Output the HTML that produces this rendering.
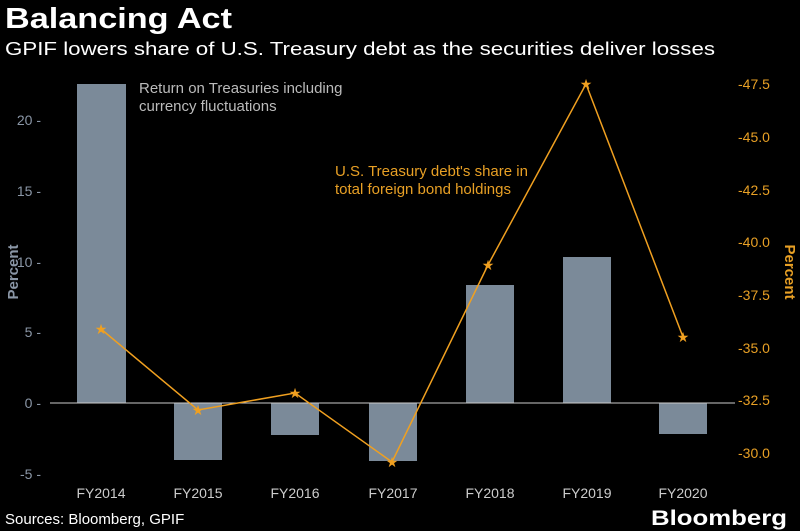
<!DOCTYPE html>
<html><head><style>
html,body{margin:0;padding:0;background:#000;}
svg{display:block;font-family:"Liberation Sans",sans-serif;}
</style></head><body>
<svg width="800" height="531" viewBox="0 0 800 531" xmlns="http://www.w3.org/2000/svg">
<rect width="800" height="531" fill="#000"/>
<text x="5" y="28" font-size="29" font-weight="bold" fill="#fff" textLength="227" lengthAdjust="spacingAndGlyphs">Balancing Act</text>
<text x="5" y="55" font-size="18" fill="#fff" textLength="710" lengthAdjust="spacingAndGlyphs">GPIF lowers share of U.S. Treasury debt as the securities deliver losses</text>
<g fill="#7b8a99">
<rect x="77" y="84" width="49" height="319"/>
<rect x="174" y="403" width="48" height="57"/>
<rect x="271" y="403" width="48" height="32"/>
<rect x="369" y="403" width="48" height="58"/>
<rect x="466" y="285" width="48" height="118"/>
<rect x="563" y="257" width="48" height="146"/>
<rect x="659" y="403" width="48" height="31"/>
</g>
<line x1="50" y1="403" x2="735" y2="403" stroke="#ccc" stroke-width="1"/>
<g font-size="14" fill="#8a96a6" text-anchor="end">
<text x="41" y="125">20 -</text>
<text x="41" y="196">15 -</text>
<text x="41" y="267">10 -</text>
<text x="41" y="337">5 -</text>
<text x="41" y="408">0 -</text>
<text x="41" y="479">-5 -</text>
</g>
<text transform="translate(18,272) rotate(-90)" font-size="15" font-weight="bold" fill="#8a96a6" text-anchor="middle">Percent</text>
<g font-size="14" fill="#e8a025">
<text x="738" y="89">-47.5</text>
<text x="738" y="142">-45.0</text>
<text x="738" y="195">-42.5</text>
<text x="738" y="247">-40.0</text>
<text x="738" y="300">-37.5</text>
<text x="738" y="353">-35.0</text>
<text x="738" y="405">-32.5</text>
<text x="738" y="458">-30.0</text>
</g>
<text transform="translate(785,272) rotate(90)" font-size="15" font-weight="bold" fill="#e8a025" text-anchor="middle">Percent</text>
<g font-size="14" fill="#ccc" text-anchor="middle">
<text x="101" y="498">FY2014</text>
<text x="198" y="498">FY2015</text>
<text x="295" y="498">FY2016</text>
<text x="393" y="498">FY2017</text>
<text x="490" y="498">FY2018</text>
<text x="587" y="498">FY2019</text>
<text x="683" y="498">FY2020</text>
</g>
<text x="139" y="93" font-size="15" fill="#bbb">Return on Treasuries including</text>
<text x="139" y="111" font-size="15" fill="#bbb">currency fluctuations</text>
<text x="335" y="176" font-size="15" fill="#e8a025">U.S. Treasury debt's share in</text>
<text x="335" y="194" font-size="15" fill="#e8a025">total foreign bond holdings</text>
<polyline points="101,329 198,410 295,393 392,462 488,265 586,84 683,337" fill="none" stroke="#f0a020" stroke-width="1.5"/>
<g fill="#f0a020" font-size="14" text-anchor="middle">
<text x="101" y="334">★</text><text x="198" y="415">★</text><text x="295" y="398">★</text>
<text x="392" y="467">★</text><text x="488" y="270">★</text><text x="586" y="89">★</text><text x="683" y="342">★</text>
</g>
<text x="5" y="524" font-size="15" fill="#fff">Sources: Bloomberg, GPIF</text>
<text x="787" y="525" font-size="21" font-weight="bold" fill="#fff" text-anchor="end" textLength="136" lengthAdjust="spacingAndGlyphs">Bloomberg</text>
</svg>
</body></html>
